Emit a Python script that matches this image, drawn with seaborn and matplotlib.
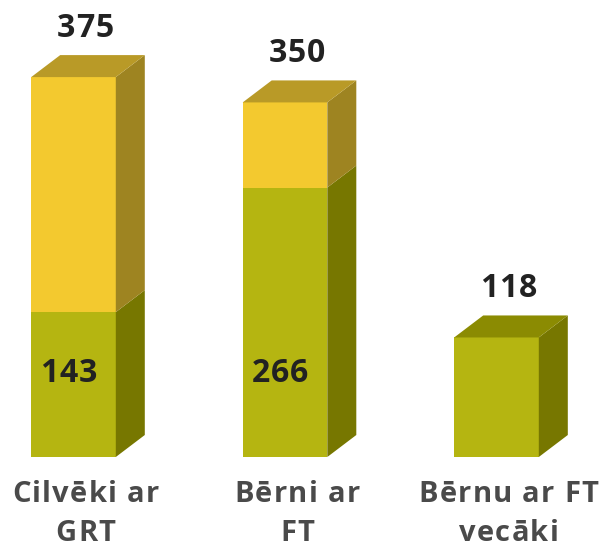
import pandas as pd
import numpy as np
import matplotlib
matplotlib.use('Agg')
import matplotlib.pyplot as plt
import seaborn as sns
from matplotlib.font_manager import FontProperties, findfont, get_font

categories = ['Cilvēki ar\nGRT', 'Bērni ar\nFT', 'Bērnu ar FT\nvecāki']
totals = [375, 350, 118]
greens = [143, 266, 118]
inner_labels = ['143', '266', '']

yellow_front = '#f3c92f'
yellow_top = '#b99a27'
yellow_side = '#9e8421'
green_front = '#b5b511'
green_top = '#8b8b02'
green_side = '#777700'

sns.set_style('white')
plt.rcParams['font.family'] = ['Open Sans', 'DejaVu Sans']

df = pd.DataFrame({'cat': categories, 'total': totals, 'green': greens})

fig, ax = plt.subplots(figsize=(5.99, 5.42), dpi=100)
ax.set_position([0, 0, 1, 1])
sns.barplot(data=df, x='cat', y='total', color=yellow_front, width=0.4,
            saturation=1, linewidth=0, ax=ax)
sns.barplot(data=df, x='cat', y='green', color=green_front, width=0.4,
            saturation=1, linewidth=0, ax=ax)
xl, xr = -0.3475, 2.4846
yb, yt = -83.9, 451.1
ax.set_xlim(xl, xr)
ax.set_ylim(yb, yt)
ax.axis('off')


def spaced_text(x, y, s, size, color, spacing, dx_px=0, dy_px=0, linegap=39):
    # text with letter spacing, centred on (x, y) + pixel offset, baseline at y
    prop = FontProperties(family='Open Sans', weight='bold', size=size)
    font = get_font(findfont(prop))
    font.set_size(size, 100)
    for li, line in enumerate(s.split('\n')):
        adv = [font.load_char(ord(ch)).linearHoriAdvance / 65536 for ch in line]
        width = sum(adv) + spacing * (len(line) - 1)
        pos = -width / 2
        for ch, a in zip(line, adv):
            if ch != ' ':
                ax.annotate(ch, (x, y), xytext=(dx_px + pos, dy_px - li * linegap),
                            textcoords='offset pixels', ha='left', va='baseline',
                            fontproperties=prop, color=color, zorder=5,
                            annotation_clip=False)
            pos += a + spacing


# depth of the fake 3d box, in data units
dx = 29 / (599 / (xr - xl))
dy = 22 / (542 / (yt - yb))

for i, p in enumerate(ax.patches[:len(categories)]):
    x0 = p.get_x()
    w = p.get_width()
    x1 = x0 + w
    tot = totals[i]
    g = greens[i]
    # side faces
    ax.fill([x1, x1, x1 + dx, x1 + dx], [0, g, g + dy, dy],
            color=green_side, lw=0, zorder=3)
    if tot > g:
        ax.fill([x1, x1, x1 + dx, x1 + dx], [g, tot, tot + dy, g + dy],
                color=yellow_side, lw=0, zorder=3)
        top_c = yellow_top
    else:
        top_c = green_top
    # top face
    ax.fill([x0, x1, x1 + dx, x0 + dx], [tot, tot, tot + dy, tot + dy],
            color=top_c, lw=0, zorder=3)

    cx = x0 + w / 2
    spaced_text(cx, tot + dy, str(tot), 23, '#222222', 1.0, dx_px=12, dy_px=18)
    if inner_labels[i]:
        spaced_text(cx, 74, inner_labels[i], 23, '#222222', 1.0, dx_px=-5)
    spaced_text(cx, 0, categories[i], 21, '#4a4a4a', 1.3, dx_px=12, dy_px=-45)

fig.savefig('out.png', dpi=100)
